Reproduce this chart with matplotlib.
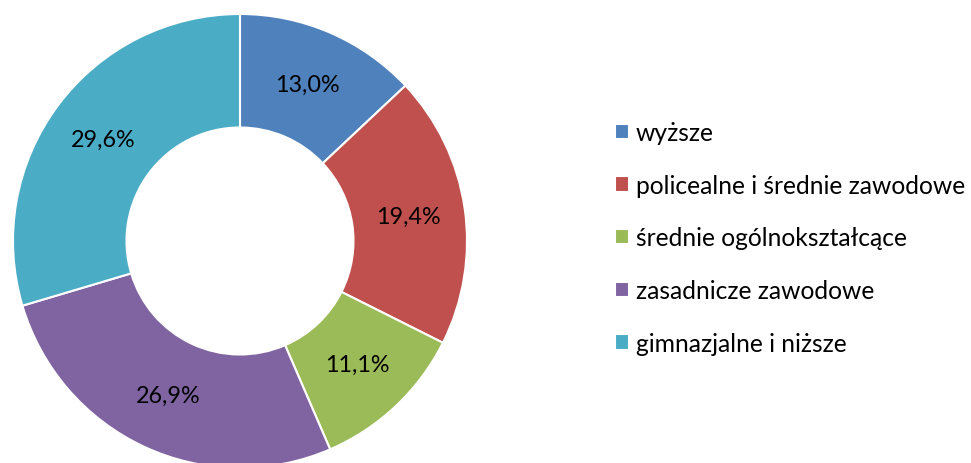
import matplotlib.pyplot as plt

# Udział według poziomu wykształcenia (%)
kategorie = ["wyższe", "policealne i średnie zawodowe", "średnie ogólnokształcące",
             "zasadnicze zawodowe", "gimnazjalne i niższe"]
udzialy = [13.0, 19.4, 11.1, 26.9, 29.6]
kolory = ["#4F81BD", "#C0504D", "#9BBB59", "#8064A2", "#4BACC6"]

plt.rcParams["font.family"] = ["Lato", "DejaVu Sans"]

fig = plt.figure(figsize=(9.71, 4.64), dpi=100)
ax = fig.add_axes([13 / 971, -5 / 464, 454 / 971, 454 / 464])

wedges, teksty, proc = ax.pie(
    udzialy, colors=kolory, startangle=90, counterclock=False, radius=1.0,
    autopct=lambda p: f"{p:.1f}%".replace(".", ","), pctdistance=0.75,
    wedgeprops=dict(width=0.5, edgecolor="white", linewidth=1.5),
    textprops=dict(fontsize=16.8, color="black"))
ax.set_xlim(-1, 1)
ax.set_ylim(-1, 1)

fig.legend(wedges, kategorie, loc="upper left", bbox_to_anchor=(605 / 971, 1 - 112 / 464),
           frameon=False, fontsize=17.7, handlelength=0.58, handleheight=0.58,
           handletextpad=0.28, labelspacing=1.21, borderaxespad=0)

fig.savefig("out.png", dpi=100)
